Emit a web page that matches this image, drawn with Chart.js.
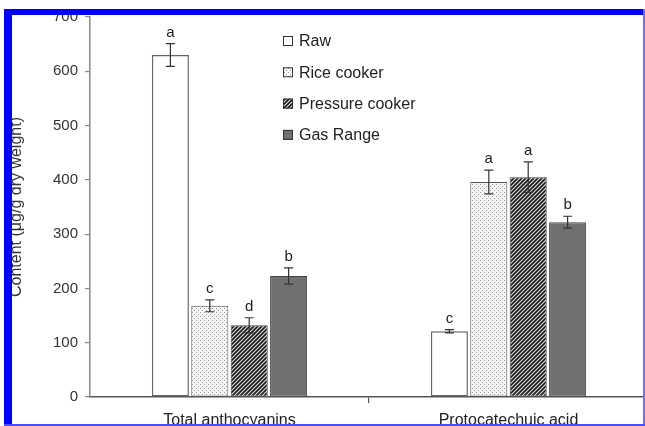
<!DOCTYPE html>
<html>
<head>
<meta charset="utf-8">
<script src="https://cdn.jsdelivr.net/npm/chart.js@4"></script>
<style>
  html, body { margin: 0; padding: 0; background: #fff; overflow: hidden; width: 645px; height: 426px; }
  #wrap { position: absolute; left: 0; top: 0; width: 660px; height: 426px; }
  .frame { position: absolute; background: #0000ff; }
</style>
</head>
<body>
<div id="wrap"><canvas id="chart"></canvas></div>
<div class="frame" style="left:4px;top:9px;width:8px;height:417px"></div>
<div class="frame" style="left:4px;top:9px;width:641px;height:6px"></div>
<div class="frame" style="left:643px;top:9px;width:2px;height:417px;background:#6f6fff"></div>
<div class="frame" style="left:4px;top:424px;width:641px;height:2px;background:#4c4cff"></div>
<script>
// Chart data
const categories = ['Total anthocyanins', 'Protocatechuic acid'];
const seriesNames = ['Raw', 'Rice cooker', 'Pressure cooker', 'Gas Range'];

const rawValues = [630, 121];
const rawErrors = [21, 3];
const rawLetters = ['a', 'c'];

const riceValues = [168, 396];
const riceErrors = [11, 22];
const riceLetters = ['c', 'a'];

const pressureValues = [132, 405];
const pressureErrors = [14, 28];
const pressureLetters = ['d', 'a'];

const gasValues = [223, 322];
const gasErrors = [15, 11];
const gasLetters = ['b', 'b'];

const yMin = 0;
const yMax = 700;
const yStep = 100;

Chart.defaults.font.family = '"Liberation Sans", Arial, sans-serif';
Chart.defaults.color = '#333';

// Fill patterns for the bars
function makeTile(size, draw) {
  const c = document.createElement('canvas');
  c.width = size;
  c.height = size;
  draw(c.getContext('2d'), size);
  return document.createElement('canvas').getContext('2d').createPattern(c, 'repeat');
}

const dotPattern = makeTile(4, (g, s) => {
  g.fillStyle = '#f6f6f6';
  g.fillRect(0, 0, s, s);
  g.fillStyle = '#9a9a9a';
  g.fillRect(0, 0, 1, 1);
  g.fillRect(2, 2, 1, 1);
});

const hatchPattern = makeTile(4, (g, s) => {
  g.fillStyle = '#e8e8e8';
  g.fillRect(0, 0, s, s);
  g.strokeStyle = '#1c1c1c';
  g.lineWidth = 1.8;
  g.beginPath();
  g.moveTo(0, s); g.lineTo(s, 0);
  g.moveTo(-1, 1); g.lineTo(1, -1);
  g.moveTo(s - 1, s + 1); g.lineTo(s + 1, s - 1);
  g.stroke();
});

const seriesErrors = [rawErrors, riceErrors, pressureErrors, gasErrors];
const seriesLetters = [rawLetters, riceLetters, pressureLetters, gasLetters];

// Error bars and significance letters
const errorBarPlugin = {
  id: 'errorBars',
  afterDatasetsDraw(chart) {
    const ctx = chart.ctx;
    const yScale = chart.scales.y;
    ctx.save();
    ctx.strokeStyle = '#333';
    ctx.lineWidth = 1.2;
    ctx.fillStyle = '#222';
    ctx.font = '15px "Liberation Sans", Arial, sans-serif';
    ctx.textAlign = 'center';
    ctx.textBaseline = 'alphabetic';
    chart.data.datasets.forEach((ds, di) => {
      const meta = chart.getDatasetMeta(di);
      meta.data.forEach((bar, i) => {
        const v = ds.data[i];
        const e = seriesErrors[di][i];
        const top = yScale.getPixelForValue(v + e);
        const bot = yScale.getPixelForValue(v - e);
        const x = bar.x;
        ctx.beginPath();
        ctx.moveTo(x, top); ctx.lineTo(x, bot);
        ctx.moveTo(x - 4.5, top); ctx.lineTo(x + 4.5, top);
        ctx.moveTo(x - 4.5, bot); ctx.lineTo(x + 4.5, bot);
        ctx.stroke();
        ctx.fillText(seriesLetters[di][i], x, top - 7);
      });
    });
    ctx.restore();
  }
};

// Vertical legend inside the plot
const legendPlugin = {
  id: 'boxLegend',
  afterDraw(chart) {
    const ctx = chart.ctx;
    const x0 = 283;
    const y0 = 41;
    const rowGap = 31.3;
    const box = 10;
    ctx.save();
    ctx.font = '16px "Liberation Sans", Arial, sans-serif';
    ctx.textBaseline = 'middle';
    chart.data.datasets.forEach((ds, i) => {
      const y = y0 + i * rowGap;
      ctx.fillStyle = ds.backgroundColor;
      ctx.fillRect(x0, y - box / 2, box, box);
      ctx.strokeStyle = '#333';
      ctx.lineWidth = 1;
      ctx.strokeRect(x0 + 0.5, y - box / 2 + 0.5, box - 1, box - 1);
      ctx.fillStyle = '#222';
      ctx.fillText(ds.label, x0 + 16, y + 1);
    });
    ctx.restore();
  }
};

const barCommon = {
  categoryPercentage: 0.565,
  barPercentage: 0.94,
  borderSkipped: false
};

new Chart(document.getElementById('chart'), {
  type: 'bar',
  data: {
    labels: categories,
    datasets: [
      { ...barCommon, label: seriesNames[0], data: rawValues, backgroundColor: '#ffffff', borderColor: '#666', borderWidth: 1.5 },
      { ...barCommon, label: seriesNames[1], data: riceValues, backgroundColor: dotPattern, borderColor: '#555', borderWidth: 1 },
      { ...barCommon, label: seriesNames[2], data: pressureValues, backgroundColor: hatchPattern, borderColor: '#444', borderWidth: 1 },
      { ...barCommon, label: seriesNames[3], data: gasValues, backgroundColor: '#707070', borderColor: '#444', borderWidth: 1 }
    ]
  },
  options: {
    responsive: true,
    maintainAspectRatio: false,
    animation: false,
    layout: { padding: { top: 17, left: 4, right: 12, bottom: 0 } },
    plugins: {
      legend: { display: false },
      tooltip: { enabled: false }
    },
    scales: {
      x: {
        offset: true,
        grid: {
          offset: true,
          drawOnChartArea: false,
          tickLength: 6,
          color: (c) => (c.index === 1 ? '#555' : 'transparent'),
          lineWidth: 1.2
        },
        border: { color: '#555', width: 1.5 },
        ticks: { color: '#222', font: { size: 16 }, padding: 8 },
        afterFit: (scale) => { scale.height = 29; }
      },
      y: {
        min: yMin,
        max: yMax,
        ticks: { stepSize: yStep, color: '#333', font: { size: 15 }, padding: 7 },
        grid: { drawOnChartArea: false, tickLength: 5, color: '#888', lineWidth: 1.2 },
        border: { color: '#888', width: 1.5 },
        title: {
          display: true,
          text: 'Content (μg/g dry weight)',
          color: '#333',
          font: { size: 16 },
          padding: { top: 3, bottom: 0 }
        },
        afterFit: (scale) => { scale.width = 86; }
      }
    }
  },
  plugins: [errorBarPlugin, legendPlugin]
});
</script>
</body>
</html>
